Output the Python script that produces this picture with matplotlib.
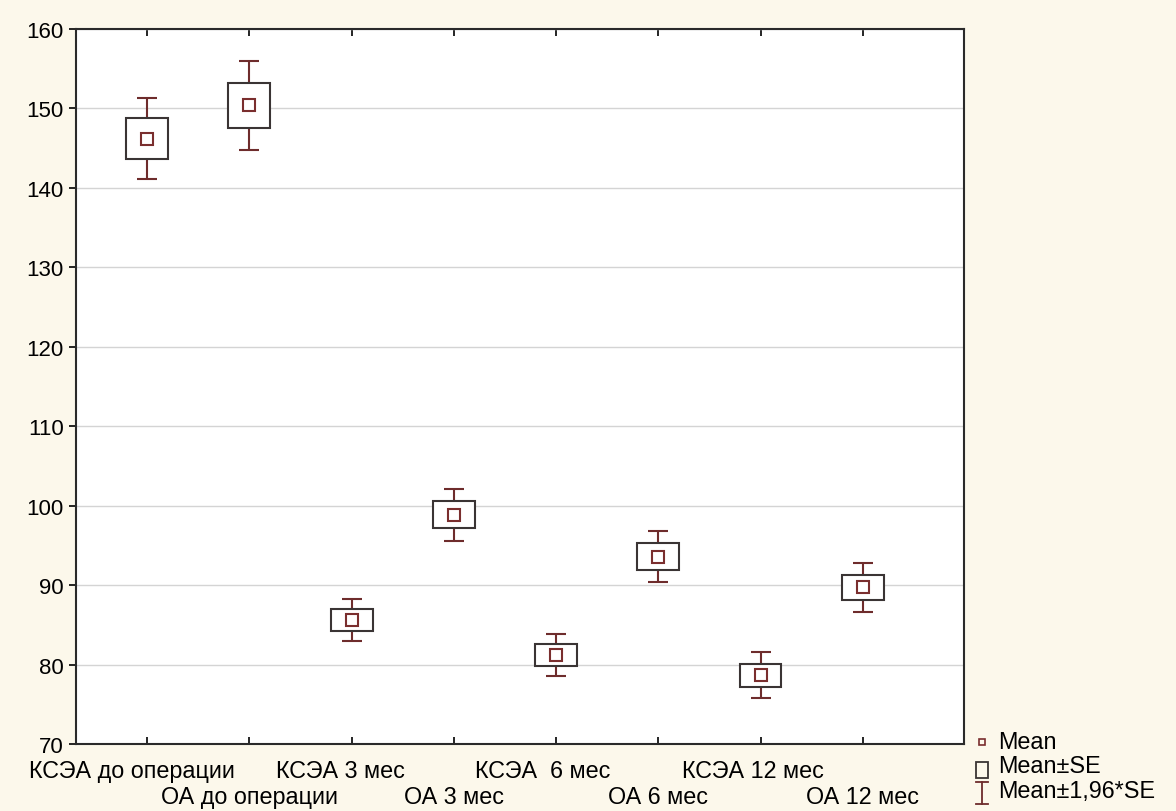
import numpy as np
import matplotlib.pyplot as plt
from matplotlib.patches import Rectangle
from matplotlib.transforms import ScaledTranslation

plt.rcParams['font.family'] = ['Liberation Sans', 'DejaVu Sans']

# группы и статистики (Mean, SE)
groups = ["КСЭА до операции", "ОА до операции", "КСЭА 3 мес", "ОА 3 мес",
          "КСЭА  6 мес", "ОА 6 мес", "КСЭА 12 мес", "ОА 12 мес"]
means = [146.2, 150.4, 85.6, 98.85, 81.2, 93.6, 78.65, 89.7]
se = [2.6, 2.85, 1.35, 1.68, 1.35, 1.65, 1.48, 1.55]
yticks = [70, 80, 90, 100, 110, 120, 130, 140, 150, 160]

bg = "#fcf8eb"
c_box = "#3a3434"
c_whisk = "#6e2c2c"
c_mean = "#7a2e2e"
fs = 16
fsx = 16.8

fig = plt.figure(figsize=(11.76, 8.12), dpi=100, facecolor=bg)
ax = fig.add_axes([76 / 1176, 1 - 745 / 812, (964 - 76) / 1176, (745 - 30) / 812])
ax.set_facecolor("white")

x = np.arange(len(groups))
means = np.array(means)
se = np.array(se)

ax.errorbar(x, means, yerr=1.96 * se, fmt="none", ecolor=c_whisk,
            elinewidth=1.5, capsize=7.5, capthick=1.5, zorder=2)
ax.bar(x, 2 * se, bottom=means - se, width=0.41, facecolor="white",
       edgecolor=c_box, linewidth=1.5, zorder=3)
ax.plot(x, means, ls="", marker="s", ms=8, mfc="white", mec=c_mean,
        mew=1.5, zorder=4)

ax.set_xlim(-0.695, 7.99)
ax.set_ylim(70, 160)
ax.set_yticks(yticks)
ax.yaxis.grid(True, color="#d4d4d4", lw=1)
ax.set_axisbelow(True)

# подписи в два ряда: чётные сверху, нечётные снизу
ax.set_xticks(x[0::2])
ax.set_xticklabels(groups[0::2], fontsize=fsx)
ax.set_xticks(x[1::2], minor=True)
ax.set_xticklabels(groups[1::2], minor=True, fontsize=fsx)
ax.tick_params(axis="x", which="both", direction="in", top=True, length=5, width=1.2)
ax.tick_params(axis="x", which="major", pad=11)
ax.tick_params(axis="x", which="minor", pad=29.5)
ax.tick_params(axis="y", direction="out", length=5, width=1.2, labelsize=fs, pad=4)
for lab, dx in zip(ax.get_xticklabels(), [-15, -11, -13, -8]):
    lab.set_transform(lab.get_transform() + ScaledTranslation(dx / 100, 0, fig.dpi_scale_trans))
for s in ax.spines.values():
    s.set_linewidth(1.5)
    s.set_color("#2a2a2a")

# легенда справа внизу
lx = fig.add_axes([0.822, 0, 0.178, 0.11])
lx.set_xlim(0, 209)
lx.set_ylim(0, 89.3)
lx.axis("off")
lx.plot([15.5], [69], ls="", marker="s", ms=5, mfc="none", mec=c_mean, mew=1.2)
lx.add_patch(Rectangle((9.5, 33), 12, 16, fill=False, ec=c_box, lw=1.3))
lx.plot([15.5, 15.5], [7, 29], color=c_whisk, lw=1.3)
lx.plot([9.5, 21.5], [29, 29], color=c_whisk, lw=1.3)
lx.plot([9.5, 21.5], [7, 7], color=c_whisk, lw=1.3)
for ty, t in zip([69, 45, 20], ["Mean", "Mean±SE", "Mean±1,96*SE"]):
    lx.text(31, ty, t, fontsize=fsx, va="center", ha="left")

fig.savefig("out.png", dpi=100, facecolor=bg)
